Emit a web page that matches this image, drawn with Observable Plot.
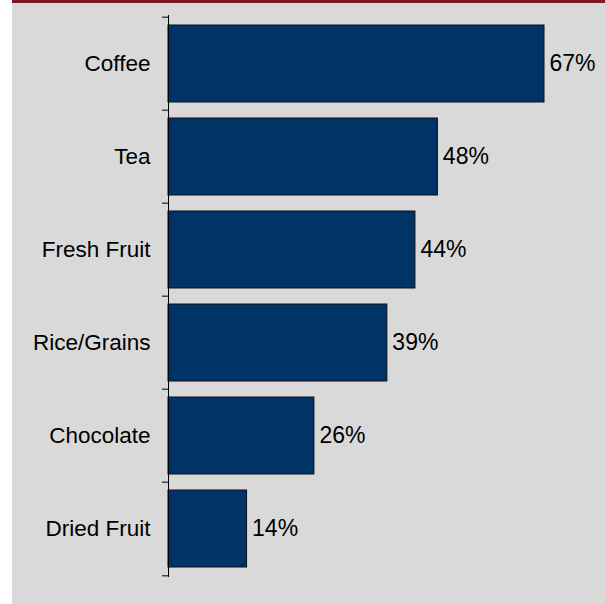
<!DOCTYPE html>
<html>
<head>
<meta charset="utf-8">
<script src="https://cdn.jsdelivr.net/npm/d3@7"></script>
<script src="https://cdn.jsdelivr.net/npm/@observablehq/plot@0.6"></script>
<style>
  html, body { margin: 0; padding: 0; background: #ffffff; }
  #wrap { position: absolute; left: 12px; top: 0; width: 593px; height: 604px; background: #d9d9d9; }
  #bar { position: absolute; left: 0; top: 0; width: 593px; height: 3px; background: #7b1a24; }
  #chart { position: absolute; left: 0; top: 0; }
</style>
</head>
<body>
<div id="wrap"><div id="chart"></div><div id="bar"></div></div>
<script>
const categories = ["Coffee", "Tea", "Fresh Fruit", "Rice/Grains", "Chocolate", "Dried Fruit"];
const values = [67, 48, 44, 39, 26, 14];
const labels = ["67%", "48%", "44%", "39%", "26%", "14%"];

const data = categories.map((c, i) => ({category: c, value: values[i], label: labels[i]}));

const W = 593, H = 604, mT = 15, mB = 27, mL = 156;
const pInner = 0.167;
const step = (H - mT - mB) / categories.length;
const font = "Liberation Sans, Arial, sans-serif";

const chart = Plot.plot({
  width: W,
  height: H,
  marginTop: mT,
  marginBottom: mB,
  marginLeft: mL,
  marginRight: 0,
  style: {background: "transparent", fontFamily: font, fontSize: "22px", color: "#000"},
  x: {domain: [0, 67 * (W - mL) / 376], axis: null},
  y: {domain: categories, paddingInner: pInner, paddingOuter: pInner / 2, axis: null},
  marks: [
    Plot.barX(data, {x: "value", y: "category", fill: "#003366", stroke: "#0a0f1a", strokeWidth: 1}),
    Plot.text(data, {x: "value", y: "category", text: "label", textAnchor: "start", dx: 5, fontSize: 23, fill: "#000"}),
    Plot.axisY({tickSize: 0, tickPadding: 18, fontSize: 22.5, fill: "#000", label: null}),
    Plot.axisY({tickSize: 6, tickFormat: null, dy: -step / 2, stroke: "#000", label: null}),
    Plot.axisY({ticks: [categories[categories.length - 1]], tickSize: 6, tickFormat: null, dy: step / 2, stroke: "#000", label: null}),
    Plot.ruleX([0], {stroke: "#000"})
  ]
});
document.getElementById("chart").appendChild(chart);
</script>
</body>
</html>
